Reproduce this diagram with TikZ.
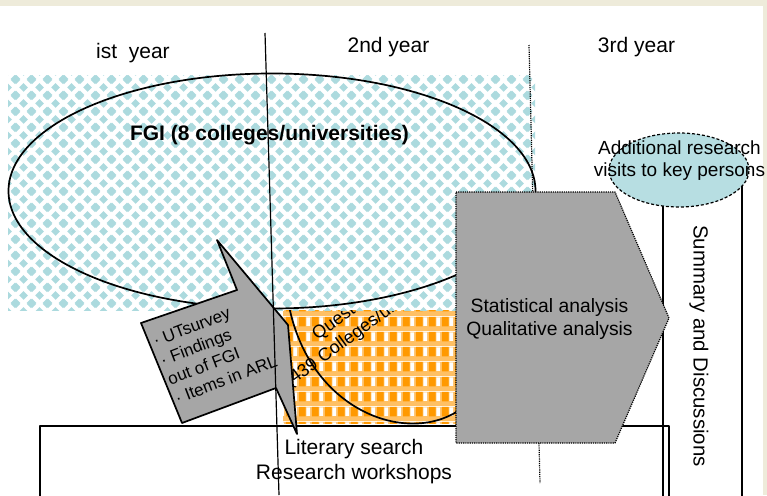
\documentclass[tikz,border=0pt]{standalone}
\usepackage{fontspec}
\setmainfont{Liberation Sans}
\usetikzlibrary{patterns}
\usetikzlibrary{shapes.geometric}

\definecolor{framebg}{RGB}{238,235,218}
\definecolor{fgicyan}{RGB}{172,218,222}
\definecolor{visitcyan}{RGB}{183,222,226}
\definecolor{blockgray}{RGB}{166,166,166}
\definecolor{qorange}{RGB}{255,153,0}
\definecolor{qlight}{RGB}{255,192,100}

% one diamond of the FGI tiling
\newcommand\fgidiamond[2]{%
  \pgfpathmoveto{\pgfpoint{#1}{#2-4.6pt}}%
  \pgfpathlineto{\pgfpoint{#1+4.6pt}{#2}}%
  \pgfpathlineto{\pgfpoint{#1}{#2+4.6pt}}%
  \pgfpathlineto{\pgfpoint{#1-4.6pt}{#2}}%
  \pgfpathclose}

\pgfdeclarepatterninherentlycolored{fgi diamonds}
  {\pgfpointorigin}{\pgfqpoint{16pt}{16pt}}{\pgfqpoint{16pt}{16pt}}
  {
    \pgfsetfillcolor{fgicyan}
    \fgidiamond{0pt}{0pt}\fgidiamond{16pt}{0pt}
    \fgidiamond{0pt}{16pt}\fgidiamond{16pt}{16pt}
    \fgidiamond{8pt}{8pt}
    \pgfusepath{fill}
  }

\pgfdeclarepatterninherentlycolored{gingham}
  {\pgfpointorigin}{\pgfqpoint{13pt}{15pt}}{\pgfqpoint{13pt}{15pt}}
  {
    \pgfsetfillcolor{qlight}
    \pgfpathrectangle{\pgfpointorigin}{\pgfqpoint{13pt}{15pt}}
    \pgfusepath{fill}
    \pgfsetfillcolor{qorange}
    \pgfpathrectangle{\pgfqpoint{0pt}{5pt}}{\pgfqpoint{7pt}{10pt}}
    \pgfusepath{fill}
    \pgfsetfillcolor{white}
    \pgfpathrectangle{\pgfqpoint{8pt}{5.5pt}}{\pgfqpoint{4pt}{9pt}}
    \pgfusepath{fill}
  }

\tikzset{
    mylabel/.style = {inner sep=0pt, align=center, text=black, font=\fontsize{21}{25}\selectfont},
    mylabels/.style = {mylabel, font=\fontsize{19.3}{23}\selectfont},
    myblock/.style = {draw=black, fill=blockgray},
    edgen/.style = {-, line width=1.2pt, black},
    edgew/.style = {-, line width=1.7pt, black},
    edged/.style = {-, line width=1.2pt, black, densely dotted},
}

\begin{document}
\begin{tikzpicture}[x=1pt, y=-1pt, line join=round]
  \useasboundingbox (0,0) rectangle (767,495);
  \fill[framebg] (0,0) rectangle (767,6);
  \fill[framebg] (763,0) rectangle (767,495);

  % questionnaire, half under the FGI area
  \fill[white, postaction={pattern=gingham}] (283,300) rectangle (456,423);
  \draw[edgew] (289,306) .. controls (310,410) and (405,445) .. (458,411);
  \node[mylabel, rotate=36, font=\fontsize{18}{22}\selectfont] (quest) at (366.5,312.5)
    {Questionnaire\\(439 Colleges/universities)};

  % FGI area
  \fill[white, postaction={pattern=fgi diamonds}] (8,75) rectangle (535,310);
  \node[ellipse, edgew, draw, inner sep=0pt, minimum width=527pt, minimum height=235pt] (fgi) at (272,191) {};
  \node[mylabel, anchor=base, font=\fontsize{21}{25}\selectfont\bfseries] (fgitext) at (269.5,140)
    {FGI (8 colleges/universities)};

  % literature box and summary column
  \draw[edgen] (40,497) -- (40,426) -- (669,426) -- (669,497);
  \draw[edgen] (663,497) -- (663,185) -- (742,185) -- (742,497);

  \node[ellipse, draw, edgen, densely dashed, fill=visitcyan, inner sep=0pt,
        minimum width=140pt, minimum height=74pt] (visit) at (679,170) {};
  \node[mylabels, font=\fontsize{19}{22}\selectfont] (visittext) at (679.5,161)
    {Additional research\\visits to key persons};

  % block arrow into the questionnaire
  \draw[edgew, fill=blockgray] (141,323) -- (237,290) -- (217,240) -- (288,325)
    -- (297,434) -- (276,388) -- (182,423) -- cycle;
  \node[mylabel, rotate=21, align=left, font=\fontsize{17}{20.5}\selectfont] (inputs) at (215,351)
    {· UTsurvey\\· Findings\\out of FGI\\· Items in ARL};

  % year dividers
  \draw[edgen] (265,33) -- (279,495);
  \draw[edged] (529,45) -- (540,483);

  % analysis block
  \draw[edged, myblock] (456,192) -- (615,192) -- (669,318) -- (615,443) -- (456,443) -- cycle;
  \node[mylabels] (analysis) at (549.5,319) {Statistical analysis\\Qualitative analysis};

  \node[mylabel] (lit) at (354,462) {Literary search\\Research workshops};
  \node[mylabel, rotate=-90, font=\fontsize{20.4}{24}\selectfont] (summary) at (699,346)
    {Summary and Discussions};

  \node[mylabel, anchor=base] (year1) at (133,58.3) {ist\ \ year};
  \node[mylabel, anchor=base] (year2) at (388.5,52.7) {2nd year};
  \node[mylabel, anchor=base] (year3) at (636.5,52.3) {3rd year};
\end{tikzpicture}
\end{document}
